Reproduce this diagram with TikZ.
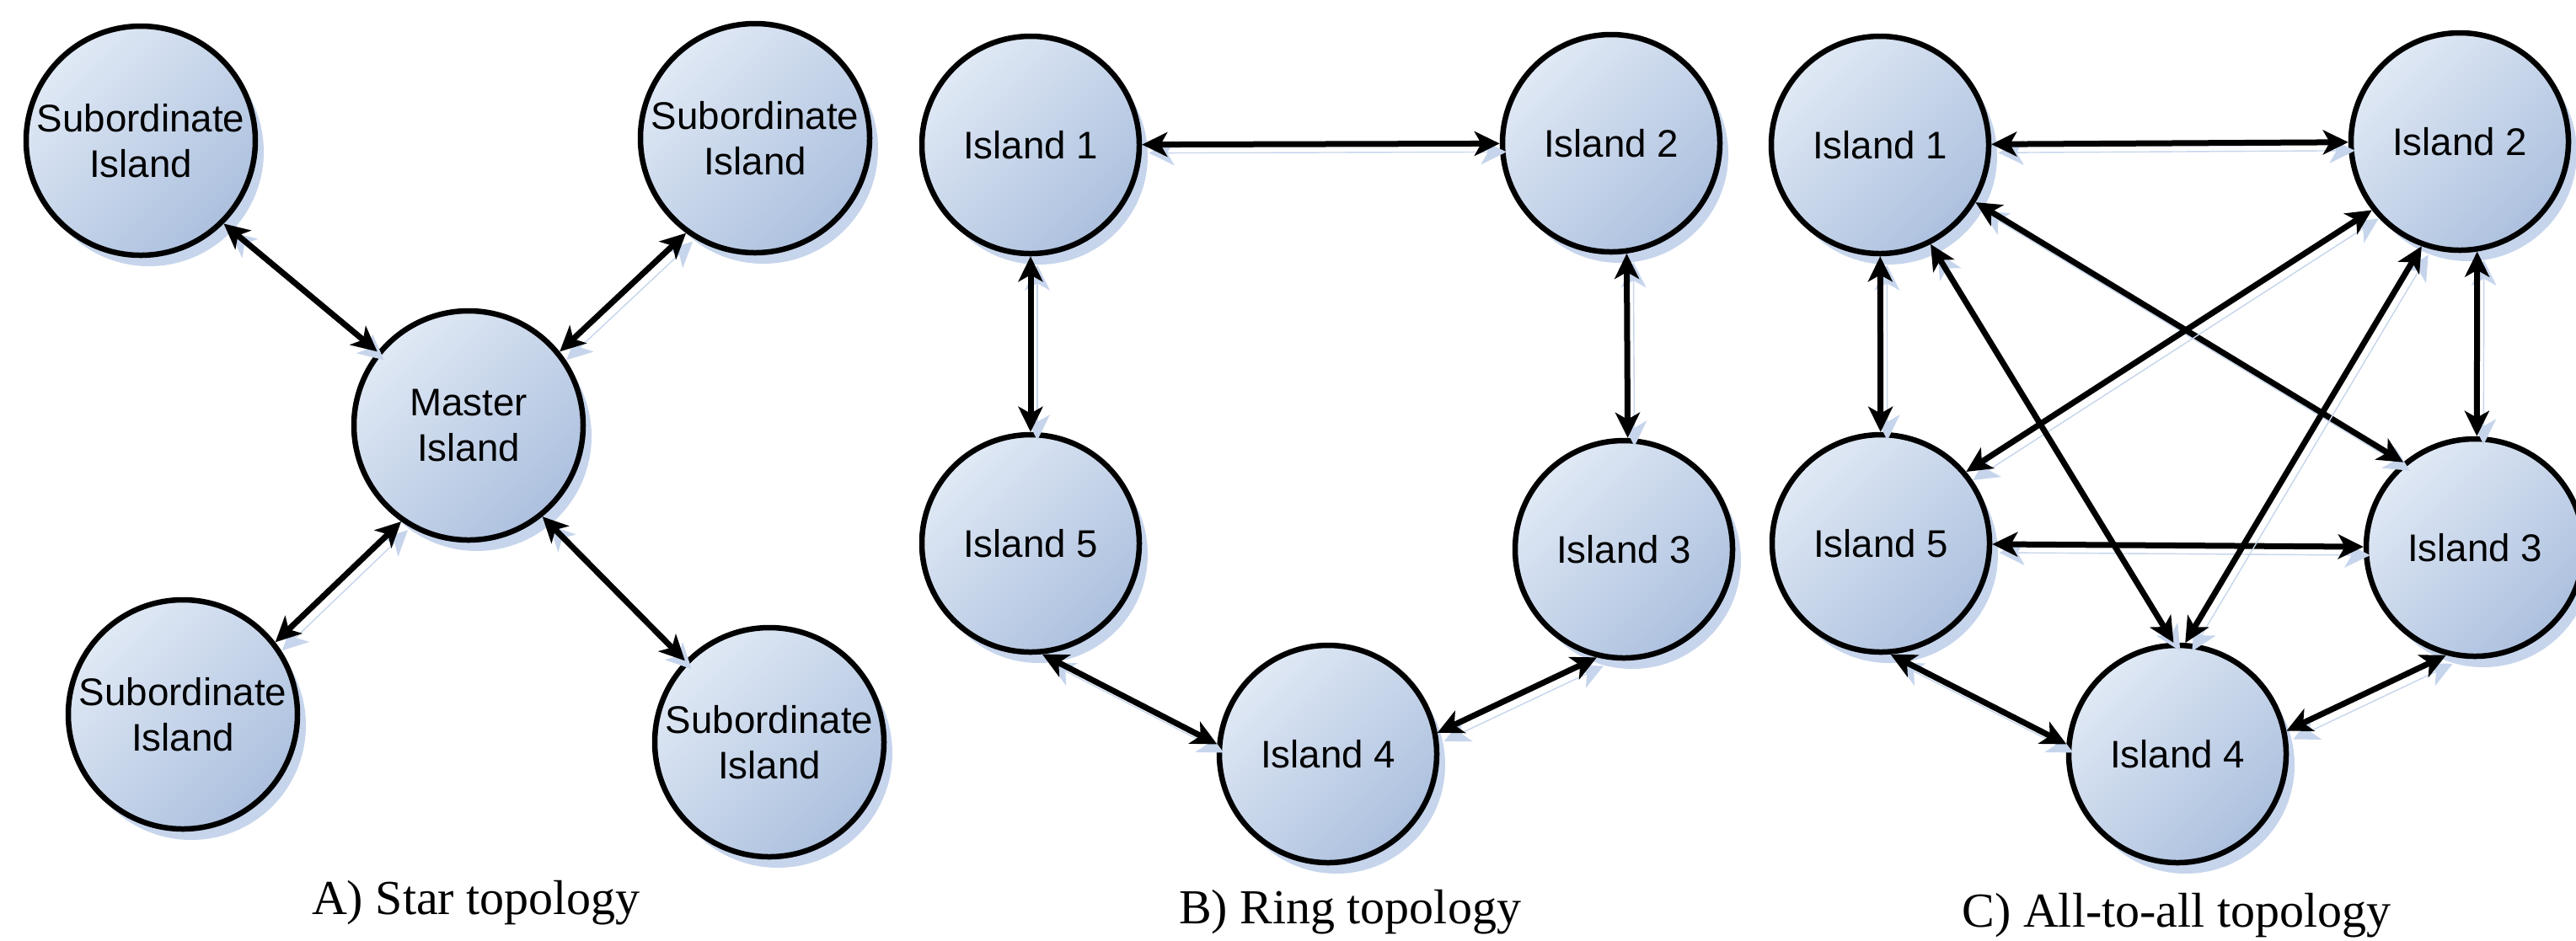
\documentclass[tikz,border=0pt]{standalone}
\usepackage{fontspec}
\setmainfont{Liberation Serif}
\setsansfont{Liberation Sans}
\usetikzlibrary{
  shadows,
  arrows.meta
}
\definecolor{islandlight}{RGB}{224,233,245}
\definecolor{islanddark}{RGB}{172,192,222}
\definecolor{islandshadow}{RGB}{198,213,236}
\tikzset{
  island/.style={circle,draw,line width=0.065cm,inner sep=0pt,minimum size=2.58cm,align=center,
    top color=islandlight,bottom color=islanddark,shading angle=45,
    drop shadow={shadow xshift=0.1cm,shadow yshift=-0.13cm,fill=islandshadow,opacity=1},
    font=\sffamily\fontsize{13}{15.5}\selectfont},
  bigisland/.style={island,minimum size=2.72cm},
  tip/.tip={Stealth[length=0.3cm,width=0.29cm,inset=0.08cm]},
  link/.style={line width=0.07cm,tip-tip,
    preaction={draw=islandshadow,transform canvas={shift={(0.08,-0.1)}}}},
  caption/.style={anchor=base,font=\fontsize{16.5}{19}\selectfont}
}
\begin{document}
\begin{tikzpicture}
    \useasboundingbox (0,0) rectangle (30.57,-11.16);

    \node[bigisland] (master) at (5.56,-5.05) {Master\\Island};
    \node[bigisland] (sub1) at (1.67,-1.67) {Subordinate\\Island};
    \node[bigisland] (sub2) at (8.96,-1.64) {Subordinate\\Island};
    \node[bigisland] (sub3) at (2.17,-8.48) {Subordinate\\Island};
    \node[bigisland] (sub4) at (9.13,-8.81) {Subordinate\\Island};
    \node[caption] (capA) at (5.65,-10.85) {A) Star topology};

    \draw[link] (master.141) -- (sub1.-45);
    \draw[link] (master.39) -- (sub2.-126);
    \draw[link] (master.-125) -- (sub3.38);
    \draw[link] (master.-51) -- (sub4.136);

    \node[island] (b1) at (12.23,-1.72) {Island 1};
    \node[island] (b2) at (19.12,-1.70) {Island 2};
    \node[island] (b3) at (19.27,-6.52) {Island 3};
    \node[island] (b4) at (15.76,-8.95) {Island 4};
    \node[island] (b5) at (12.23,-6.45) {Island 5};
    \node[caption] (capB) at (16.02,-10.96) {B) Ring topology};

    \draw[link] (b1) -- (b2);
    \draw[link] (b2.-82) -- (b3.88);
    \draw[link] (b3.-104) -- (b4.11);
    \draw[link] (b5.-84) -- (b4.175);
    \draw[link] (b1) -- (b5);

    \node[island] (c1) at (22.31,-1.72) {Island 1};
    \node[island] (c2) at (29.19,-1.68) {Island 2};
    \node[island] (c3) at (29.37,-6.50) {Island 3};
    \node[island] (c4) at (25.84,-8.95) {Island 4};
    \node[island] (c5) at (22.32,-6.45) {Island 5};
    \node[caption] (capC) at (25.83,-11.00) {C) All-to-all topology};

    \draw[link] (c1) -- (c2);
    \draw[link] (c1) -- (c5);
    \draw[link] (c2.-81) -- (c3.89);
    \draw[link] (c5) -- (c3);
    \draw[link] (c1.-31) -- (c3.130);
    \draw[link] (c2.-142) -- (c5.40);
    \draw[link] (c1.-63) -- (c4.92);
    \draw[link] (c2.-110) -- (c4.86);
    \draw[link] (c5.-85) -- (c4.175);
    \draw[link] (c3.-105) -- (c4.12);
\end{tikzpicture}
\end{document}
